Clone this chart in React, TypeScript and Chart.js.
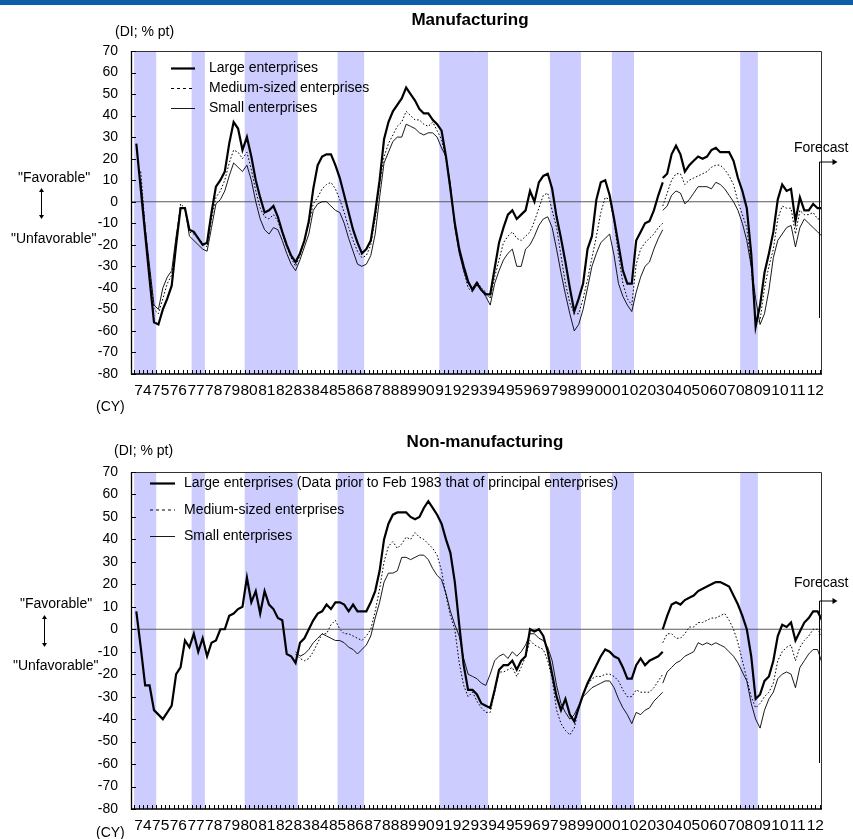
import React, { useEffect, useRef } from "react";
import { Chart, registerables } from "chart.js";

Chart.register(...registerables);

const FONT = '"Liberation Sans", Arial, Helvetica, sans-serif';

// x values are quarter indices: 0 = 1974 Q1, 155 = 2012 Q4 (forecast)
const YEAR_LABELS = [
  "74", "75", "76", "77", "78", "79", "80", "81", "82", "83", "84", "85", "86",
  "87", "88", "89", "90", "91", "92", "93", "94", "95", "96", "97", "98", "99",
  "00", "01", "02", "03", "04", "05", "06", "07", "08", "09", "10", "11", "12",
];
const Y_MIN = -80;
const Y_MAX = 70;
const Y_STEP = 10;
// recession periods, first and last quarter index
const RECESSION_QUARTERS: [number, number][] = [
  [0, 4], [13, 15], [25, 36], [46, 51], [69, 79], [94, 100], [108, 112], [137, 140],
];
const SERIES_BREAK_Q = 119; // survey revision (Dec 2003)
const FORECAST_Q = 154.3;

// ---------- Manufacturing ----------
const MFG_LARGE_OLD = [
  27, 6, -15, -36, -56, -57, -50, -45, -39, -20,
  -3, -3, -13, -14, -17, -20, -19, -5, 7, 10,
  14, 27, 37, 34, 24, 30, 21, 10, 2, -5,
  -4, -2, -7, -14, -20, -25, -28, -24, -18, -9,
  6, 17, 21, 22, 22, 17, 11, 3, -5, -13,
  -19, -24, -22, -18, -5, 10, 29, 37, 42, 45,
  48, 53, 50, 47, 43, 41, 41, 38, 36, 33,
  21, 6, -10, -22, -30, -37, -41, -38, -41, -43,
  -43, -31, -19, -12, -6, -4, -8, -6, -4, 5,
  0, 9, 12, 13, 6, -7, -17, -28, -40, -51,
  -45, -38, -22, -16, 1, 9, 10, 3, -8, -20,
  -32, -38, -38, -18, -14, -10, -9, -4, 3, 9,
];
const MFG_LARGE_NEW = [
  11, 13, 22, 26, 22, 14, 17, 19, 21, 20,
  21, 24, 25, 23, 23, 23, 19, 11, 5, -3,
  -24, -58, -48, -33, -24, -14, 1, 8, 5, 6,
  -9, 2, -4, -4, -1, -3, -3,
];
const MFG_MEDIUM_OLD = [
  14, -12, -32, -50, -52, -45, -38, -34, -18,
  -1, -3, -14, -15, -17, -19, -21, -8, 2, 5,
  10, 18, 24, 23, 20, 23, 15, 5, -3, -7,
  -8, -6, -9, -15, -21, -26, -30, -25, -18, -10,
  -1, 2, 6, 8, 9, 6, 1, -5, -12, -18,
  -23, -26, -25, -20, -8, 8, 21, 27, 31, 35,
  37, 42, 40, 38, 38, 36, 35, 37, 33, 29,
  20, 5, -10, -22, -32, -40, -42, -37, -40, -42,
  -45, -35, -27, -19, -16, -14, -17, -18, -16, -14,
  -9, -3, 3, 4, -4, -12, -25, -38, -47, -52,
  -52, -45, -36, -26, -16, -5, 2, 1, -9, -25,
  -38, -45, -48, -29, -22, -19, -17, -15, -12, -10,
];
const MFG_MEDIUM_NEW = [
  -2, 4, 10, 13, 13, 8, 10, 11, 12, 13,
  14, 16, 17, 17, 15, 12, 8, 0, -6, -12,
  -30, -57, -55, -40, -30, -22, -8, -2, -3, -3,
  -15, -4, -6, -6, -5, -8, -8,
];
const MFG_SMALL_OLD = [
  10, -12, -30, -48, -50, -40, -35, -32, -16,
  -3, -3, -16, -18, -20, -22, -23, -12, -1, 1,
  5, 12, 18, 16, 14, 17, 10, 0, -8, -13,
  -15, -12, -13, -18, -24, -29, -32, -27, -21, -15,
  -4, -1, 0, 0, -2, -4, -5, -10, -17, -23,
  -29, -30, -29, -25, -15, 2, 18, 23, 28, 30,
  30, 36, 35, 34, 32, 31, 32, 32, 30, 25,
  21, 8, -12, -24, -32, -38, -40, -37, -41, -44,
  -48, -38, -32, -27, -24, -22, -30, -30, -22, -20,
  -16, -11, -8, -7, -12, -22, -33, -43, -52, -60,
  -57, -50, -40, -30, -24, -19, -17, -15, -25, -38,
  -44, -48, -51, -42, -35, -30, -28, -22, -17, -13,
];
const MFG_SMALL_NEW = [
  -4, -2, 3, 5, 4, -1, 1, 4, 7, 7,
  7, 6, 9, 8, 6, 3, 0, -4, -10, -18,
  -30, -45, -57, -52, -41, -26, -18, -15, -12, -11,
  -21, -12, -8, -10, -12, -14, -16,
];

// ---------- Non-manufacturing ----------
const NONMFG_LARGE_OLD = [
  8, -8, -25, -25, -36, -38, -40, -37, -34, -20,
  -17, -5, -8, -2, -10, -4, -12, -6, -5, 0,
  0, 6, 7, 9, 10, 23, 12, 17, 7, 17,
  11, 9, 5, 4, -11, -12, -15, -6, -4, 0,
  4, 7, 8, 11, 9, 12, 12, 11, 8, 11,
  8, 8, 8, 12, 17, 26, 40, 47, 51, 52,
  52, 52, 50, 49, 50, 54, 57, 54, 51, 47,
  40, 34, 21, 2, -16, -27, -27, -29, -33, -34,
  -35, -27, -18, -16, -16, -14, -18, -14, -12, 0,
  -1, 0, -3, -10, -20, -30, -36, -31, -38, -41,
  -35, -29, -24, -20, -16, -12, -9, -10, -12, -13,
  -17, -22, -22, -16, -13, -16, -14, -13, -12, -10,
];
const NONMFG_LARGE_NEW = [
  0, 6, 11, 12, 11, 13, 14, 15, 17, 18,
  19, 20, 21, 21, 20, 19, 15, 11, 6, 0,
  -12, -31, -29, -23, -21, -14, -3, 2, 1, 3,
  -5, -1, 3, 5, 8, 8, 4,
];
const NONMFG_MEDIUM_START = 36;
const NONMFG_MEDIUM_OLD = [
  -11, -13, -14, -13,
  -10, -6, -2, -2, 2, 4, 0, -2, -2, -3,
  -4, -5, -3, 0, 8, 18, 30, 37, 39, 36,
  38, 41, 40, 43, 41, 40, 38, 36, 33, 26,
  15, 6, 0, -15, -25, -30, -28, -32, -35, -37,
  -37, -28, -19, -19, -18, -17, -21, -17, -12, -5,
  -7, -8, -9, -14, -22, -36, -42, -45, -47, -44,
  -35, -29, -25, -22, -21, -21, -20, -20, -21, -23,
  -27, -30, -30, -27, -28, -28, -28, -26, -23, -20,
];
const NONMFG_MEDIUM_NEW = [
  -6, -2, -2, -4, -4, -2, 1, 1, 3, 3,
  4, 5, 5, 6, 7, 4, 0, -6, -14, -22,
  -30, -35, -33, -30, -28, -24, -14, -10, -8, -7,
  -14, -8, -5, -3, 0, 0, -3,
];
const NONMFG_SMALL_START = 36;
const NONMFG_SMALL_OLD = [
  -10, -12, -11, -9,
  -6, -4, -2, -3, -4, -5, -5, -6, -8, -9,
  -11, -9, -7, -3, 5, 12, 21, 25, 25, 26,
  32, 32, 31, 32, 33, 33, 31, 27, 24, 22,
  16, 8, 2, -3, -13, -20, -21, -22, -24, -25,
  -20, -14, -12, -11, -13, -10, -12, -10, -7, -2,
  -2, -4, -5, -8, -14, -25, -33, -37, -40, -38,
  -34, -30, -28, -26, -25, -24, -23, -23, -26, -31,
  -35, -38, -42, -37, -38, -36, -35, -32, -30, -28,
];
const NONMFG_SMALL_NEW = [
  -24, -19, -17, -15, -14, -12, -11, -10, -6, -7,
  -6, -7, -6, -7, -8, -10, -12, -15, -19, -23,
  -33, -40, -44, -36, -31, -28, -22, -20, -19, -20,
  -26, -17, -14, -11, -9, -9, -15,
];

const LEGEND_MFG = ["Large enterprises", "Medium-sized enterprises", "Small enterprises"];
const LEGEND_NONMFG = [
  "Large enterprises (Data prior to Feb 1983 that of principal enterprises)",
  "Medium-sized enterprises",
  "Small enterprises",
];

type Pt = { x: number; y: number | null };
function joinSeries(oldStart: number, oldVals: number[], newStart: number, newVals: number[]): Pt[] {
  const a: Pt[] = oldVals.map((v, k) => ({ x: oldStart + k, y: v }));
  const b: Pt[] = newVals.map((v, k) => ({ x: newStart + k, y: v }));
  return [...a, { x: newStart, y: null }, ...b];
}

const STYLES = [
  { width: 2.2, dash: [] as number[], legendDash: [] as number[] },
  { width: 1, dash: [1.6, 2], legendDash: [3, 3] },
  { width: 0.9, dash: [] as number[], legendDash: [] as number[] },
];

interface PanelCfg {
  title: string;
  titleX: number;
  titleY: number;
  height: number;
  top: number;
  padTop: number;
  xAxisH: number;
  series: Pt[][];
  legendLabels: string[];
  legendLineX: [number, number];
  legendTextX: number;
  legendRows: number[];
  unitPos: [number, number];
  favPos: [number, number];
  unfavPos: [number, number];
  arrow: [number, number, number];
  cyPos: [number, number];
  fcText: [number, number];
  fcLine: [number, number];
}

function makeDecor(cfg: PanelCfg) {
  return {
    id: "decor",
    beforeDatasetsDraw(chart: any) {
      const { ctx, chartArea: a, scales } = chart;
      const xs = scales.x;
      const ys = scales.y;
      ctx.save();
      ctx.fillStyle = "#ccccff";
      for (const [s, e] of RECESSION_QUARTERS) {
        const x0 = Math.max(a.left, xs.getPixelForValue(s - 0.5));
        const x1 = Math.min(a.right, xs.getPixelForValue(e + 0.5));
        ctx.fillRect(x0, a.top, x1 - x0, a.bottom - a.top);
      }
      const y0 = ys.getPixelForValue(0);
      ctx.strokeStyle = "#5a5a5a";
      ctx.lineWidth = 1.2;
      ctx.beginPath();
      ctx.moveTo(a.left, y0);
      ctx.lineTo(a.right, y0);
      ctx.stroke();
      ctx.restore();
    },
    afterDatasetsDraw(chart: any) {
      const { ctx, chartArea: a, scales } = chart;
      const xs = scales.x;
      const ys = scales.y;
      ctx.save();
      // frame
      ctx.strokeStyle = "#333";
      ctx.lineWidth = 1;
      ctx.beginPath();
      ctx.moveTo(a.left, a.top + 0.5);
      ctx.lineTo(a.right - 0.5, a.top + 0.5);
      ctx.lineTo(a.right - 0.5, a.bottom);
      ctx.stroke();
      ctx.strokeStyle = "#000";
      ctx.lineWidth = 1.3;
      ctx.beginPath();
      ctx.moveTo(a.left + 0.5, a.top);
      ctx.lineTo(a.left + 0.5, a.bottom);
      ctx.lineTo(a.right, a.bottom);
      ctx.stroke();
      // inward ticks
      ctx.lineWidth = 1;
      ctx.beginPath();
      for (let v = Y_MIN; v <= Y_MAX; v += Y_STEP) {
        const y = Math.round(ys.getPixelForValue(v)) + 0.5;
        ctx.moveTo(a.left, y);
        ctx.lineTo(a.left + 5, y);
      }
      for (let q = 0; q <= 155; q++) {
        const x = Math.round(xs.getPixelForValue(q - 0.5)) + 0.5;
        if (x < a.left + 1 || x > a.right - 1) continue;
        ctx.moveTo(x, a.bottom);
        ctx.lineTo(x, a.bottom - 4);
      }
      ctx.stroke();
      // forecast marker
      const xf = Math.round(xs.getPixelForValue(FORECAST_Q)) + 0.5;
      const [ft, fb] = cfg.fcLine;
      ctx.beginPath();
      ctx.moveTo(xf, fb);
      ctx.lineTo(xf, ft);
      ctx.lineTo(xf + 14, ft);
      ctx.stroke();
      ctx.fillStyle = "#000";
      ctx.beginPath();
      ctx.moveTo(xf + 18, ft);
      ctx.lineTo(xf + 13, ft - 3);
      ctx.lineTo(xf + 13, ft + 3);
      ctx.closePath();
      ctx.fill();
      ctx.restore();
    },
    afterDraw(chart: any) {
      const { ctx } = chart;
      ctx.save();
      ctx.fillStyle = "#000";
      ctx.textBaseline = "middle";
      ctx.textAlign = "center";
      ctx.font = `bold 17px ${FONT}`;
      ctx.fillText(cfg.title, cfg.titleX, cfg.titleY);
      ctx.textAlign = "left";
      ctx.font = `14px ${FONT}`;
      ctx.fillText("(DI; % pt)", cfg.unitPos[0], cfg.unitPos[1]);
      ctx.fillText('"Favorable"', cfg.favPos[0], cfg.favPos[1]);
      ctx.fillText('"Unfavorable"', cfg.unfavPos[0], cfg.unfavPos[1]);
      ctx.fillText("(CY)", cfg.cyPos[0], cfg.cyPos[1]);
      ctx.fillText("Forecast", cfg.fcText[0], cfg.fcText[1]);
      // favorable / unfavorable arrow
      const [ax, ay0, ay1] = cfg.arrow;
      ctx.strokeStyle = "#000";
      ctx.lineWidth = 1;
      ctx.beginPath();
      ctx.moveTo(ax + 0.5, ay0 + 2);
      ctx.lineTo(ax + 0.5, ay1 - 2);
      ctx.stroke();
      ctx.beginPath();
      ctx.moveTo(ax + 0.5, ay0);
      ctx.lineTo(ax - 2, ay0 + 4);
      ctx.lineTo(ax + 3, ay0 + 4);
      ctx.closePath();
      ctx.moveTo(ax + 0.5, ay1);
      ctx.lineTo(ax - 2, ay1 - 4);
      ctx.lineTo(ax + 3, ay1 - 4);
      ctx.closePath();
      ctx.fill();
      // legend
      cfg.legendLabels.forEach((label, k) => {
        const st = STYLES[k];
        const y = cfg.legendRows[k];
        ctx.beginPath();
        ctx.setLineDash(st.legendDash);
        ctx.lineWidth = st.width;
        ctx.moveTo(cfg.legendLineX[0], y);
        ctx.lineTo(cfg.legendLineX[1], y);
        ctx.stroke();
        ctx.setLineDash([]);
        ctx.fillText(label, cfg.legendTextX, y);
      });
      ctx.restore();
    },
  };
}

function Panel({ cfg }: { cfg: PanelCfg }) {
  const ref = useRef<HTMLCanvasElement>(null);
  useEffect(() => {
    const canvas = ref.current!;
    const chart = new Chart(canvas, {
      type: "line",
      data: {
        datasets: cfg.series.map((pts, k) => ({
          label: cfg.legendLabels[k],
          data: pts as any,
          borderColor: "#000",
          borderWidth: STYLES[k].width,
          borderDash: STYLES[k].dash,
          pointRadius: 0,
          tension: 0,
          fill: false,
          spanGaps: false,
        })),
      },
      options: {
        responsive: false,
        animation: false,
        events: [],
        layout: { padding: { left: 0, right: 31, top: cfg.padTop, bottom: 0 } },
        plugins: { legend: { display: false }, tooltip: { enabled: false }, title: { display: false } },
        scales: {
          x: {
            type: "linear",
            min: -1.2,
            max: 155,
            bounds: "data",
            grid: { display: false, drawTicks: false },
            border: { display: false },
            afterBuildTicks: (s: any) => {
              s.ticks = YEAR_LABELS.map((_, k) => ({ value: 4 * k + 1.5 }));
            },
            afterFit: (s: any) => {
              s.height = cfg.xAxisH;
            },
            ticks: {
              autoSkip: false,
              maxRotation: 0,
              minRotation: 0,
              padding: 7,
              color: "#000",
              font: { family: FONT, size: 15.5 },
              callback: (_v: any, i: number) => YEAR_LABELS[i],
            },
          },
          y: {
            type: "linear",
            min: Y_MIN,
            max: Y_MAX,
            grid: { display: false, drawTicks: false },
            border: { display: false },
            afterFit: (s: any) => {
              s.width = 131;
            },
            ticks: {
              stepSize: Y_STEP,
              padding: 13,
              color: "#000",
              font: { family: FONT, size: 14 },
            },
          },
        },
      },
      plugins: [makeDecor(cfg)],
    });
    return () => chart.destroy();
  }, [cfg]);
  return (
    <canvas
      ref={ref}
      width={853}
      height={cfg.height}
      style={{ position: "absolute", left: 0, top: cfg.top, width: 853, height: cfg.height }}
    />
  );
}

const MFG_CFG: PanelCfg = {
  title: "Manufacturing",
  titleX: 470,
  titleY: 20.5,
  height: 420,
  top: 0,
  padTop: 51,
  xAxisH: 46,
  series: [
    joinSeries(0, MFG_LARGE_OLD, SERIES_BREAK_Q, MFG_LARGE_NEW),
    joinSeries(1, MFG_MEDIUM_OLD, SERIES_BREAK_Q, MFG_MEDIUM_NEW),
    joinSeries(1, MFG_SMALL_OLD, SERIES_BREAK_Q, MFG_SMALL_NEW),
  ],
  legendLabels: LEGEND_MFG,
  legendLineX: [171, 195],
  legendTextX: 209,
  legendRows: [68.5, 88.5, 108.5],
  unitPos: [115, 32],
  favPos: [18, 178],
  unfavPos: [11, 239.5],
  arrow: [41, 188, 219],
  cyPos: [96, 407],
  fcText: [794, 148],
  fcLine: [162, 318],
};

const NONMFG_CFG: PanelCfg = {
  title: "Non-manufacturing",
  titleX: 485,
  titleY: 22,
  height: 419,
  top: 420,
  padTop: 52,
  xAxisH: 30,
  series: [
    joinSeries(0, NONMFG_LARGE_OLD, SERIES_BREAK_Q, NONMFG_LARGE_NEW),
    joinSeries(NONMFG_MEDIUM_START, NONMFG_MEDIUM_OLD, SERIES_BREAK_Q, NONMFG_MEDIUM_NEW),
    joinSeries(NONMFG_SMALL_START, NONMFG_SMALL_OLD, SERIES_BREAK_Q, NONMFG_SMALL_NEW),
  ],
  legendLabels: LEGEND_NONMFG,
  legendLineX: [150, 175],
  legendTextX: 184,
  legendRows: [63.5, 90, 116.5],
  unitPos: [114, 31],
  favPos: [20, 184.5],
  unfavPos: [13, 246.5],
  arrow: [44, 195, 227],
  cyPos: [96, 413],
  fcText: [794, 163.5],
  fcLine: [181, 343],
};

export default function App() {
  return (
    <div style={{ position: "absolute", left: 0, top: 0, width: 853, height: 839, background: "#fff", overflow: "hidden" }}>
      <div style={{ position: "absolute", left: 0, top: 0, width: 853, height: 5, background: "#0c5ea8" }} />
      <Panel cfg={MFG_CFG} />
      <Panel cfg={NONMFG_CFG} />
    </div>
  );
}
